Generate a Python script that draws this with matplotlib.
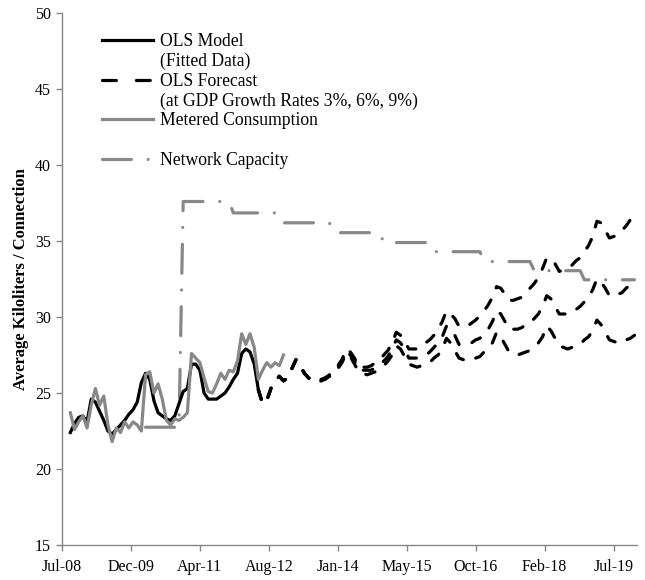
import matplotlib.pyplot as plt
import numpy as np
from matplotlib.lines import Line2D

plt.rcParams['font.family'] = ['Liberation Serif', 'DejaVu Serif']
plt.rcParams['lines.scale_dashes'] = False

# x is months counted from Jul-08
tick_pos = [0, 16.5, 33, 49.5, 66, 82.5, 99, 115.5, 132]
tick_labels = ['Jul-08', 'Dec-09', 'Apr-11', 'Aug-12', 'Jan-14',
               'May-15', 'Oct-16', 'Feb-18', 'Jul-19']

# OLS fitted (Sep-08 .. Jun-12)
fit_start = 2
fitted = [22.4, 23.0, 23.4, 23.5, 23.1, 24.6, 24.4, 23.8, 23.2, 22.5,
          22.3, 22.6, 22.9, 23.2, 23.6, 23.9, 24.4, 25.7, 26.3, 25.9,
          24.5, 23.7, 23.5, 23.3, 23.2, 23.5, 24.3, 25.1, 25.3, 26.9,
          26.9, 26.5, 25.0, 24.6, 24.6, 24.6, 24.8, 25.0, 25.4, 25.9,
          26.3, 27.6, 27.9, 27.7, 26.9, 25.2]

# metered consumption (Sep-08 .. Dec-12)
met_start = 2
metered = [23.7, 22.6, 23.1, 23.5, 22.7, 24.2, 25.3, 24.2, 24.8, 22.9,
           21.8, 22.7, 22.4, 23.1, 22.7, 23.1, 22.9, 22.5, 26.2, 26.4,
           25.0, 25.6, 24.6, 23.2, 22.9, 23.3, 23.2, 23.4, 23.7, 27.6,
           27.3, 27.0, 26.0, 25.1, 25.0, 25.6, 26.3, 25.9, 26.5, 26.4,
           27.1, 28.9, 28.2, 28.9, 28.0, 25.9, 26.5, 27.0, 26.7, 27.0,
           26.8, 27.5]

# OLS forecast, common part then 3%, 6%, 9% GDP growth
fc_start = 47
fc_common = [25.2, 24.3, 24.5, 25.3, 25.8, 26.1, 25.8, 26.0, 26.6, 27.2,
             26.8, 26.3, 26.0]
fc_low = [25.8, 25.7, 25.8, 25.9, 26.1, 26.3, 26.6, 27.0, 27.6, 27.4, 26.9, 26.4,
          26.3, 26.2, 26.3, 26.4, 26.6, 26.8, 27.1, 27.5, 28.1, 27.9, 27.4, 26.9,
          26.8, 26.7, 26.8, 26.9, 27.0, 27.3, 27.5, 27.9, 28.6, 28.3, 27.8, 27.3,
          27.2, 27.1, 27.2, 27.3, 27.4, 27.7, 27.9, 28.3, 29.0, 28.7, 28.2, 27.7,
          27.6, 27.5, 27.6, 27.7, 27.8, 28.1, 28.3, 28.7, 29.4, 29.1, 28.6, 28.1,
          28.0, 27.9, 28.0, 28.1, 28.2, 28.5, 28.7, 29.1, 29.8, 29.5, 29.0, 28.5,
          28.4, 28.3, 28.3, 28.5, 28.6, 28.8]
fc_mid = [25.8, 25.8, 25.8, 26.0, 26.1, 26.4, 26.7, 27.1, 27.8, 27.5, 27.1, 26.5,
          26.5, 26.5, 26.5, 26.7, 26.9, 27.1, 27.4, 27.9, 28.5, 28.3, 27.9, 27.3,
          27.3, 27.3, 27.4, 27.5, 27.7, 28.0, 28.3, 28.7, 29.4, 29.2, 28.8, 28.2,
          28.2, 28.2, 28.3, 28.5, 28.6, 28.9, 29.2, 29.7, 30.4, 30.2, 29.7, 29.2,
          29.2, 29.2, 29.3, 29.5, 29.6, 29.9, 30.2, 30.7, 31.4, 31.2, 30.7, 30.2,
          30.2, 30.2, 30.3, 30.5, 30.7, 31.0, 31.3, 31.8, 32.5, 32.3, 31.9, 31.4,
          31.4, 31.5, 31.6, 31.9, 32.1, 32.5]
fc_high = [25.8, 25.8, 25.9, 26.0, 26.2, 26.5, 26.8, 27.2, 27.9, 27.7, 27.3, 26.7,
           26.7, 26.7, 26.8, 27.0, 27.2, 27.5, 27.8, 28.3, 29.0, 28.8, 28.4, 27.9,
           27.9, 27.9, 28.1, 28.3, 28.5, 28.8, 29.2, 29.7, 30.4, 30.2, 29.9, 29.4,
           29.4, 29.4, 29.6, 29.8, 30.1, 30.4, 30.8, 31.3, 32.0, 31.9, 31.5, 31.1,
           31.1, 31.2, 31.3, 31.6, 31.9, 32.2, 32.6, 33.2, 33.9, 33.8, 33.5, 33.0,
           33.1, 33.2, 33.4, 33.7, 33.9, 34.3, 34.7, 35.3, 36.3, 36.2, 35.7, 35.2,
           35.3, 35.4, 35.7, 36.0, 36.4, 36.8]

# network capacity: stepped levels and how many months each lasts
cap_start = 20
cap_levels = [22.75, 37.6, 36.85, 36.2, 35.55, 34.9, 34.3, 33.65, 33.05, 32.45]
cap_months = [9, 12, 12, 12, 12, 12, 12, 12, 12, 13]

gray = '#888888'
axis_gray = '#868686'
lw = 2.3
fc_dash = (7.0, 9.5)
cap_dash = (20.8, 12.1, 0.01, 12.1)

fig = plt.figure(figsize=(6.45, 5.8), dpi=100)
ax = fig.add_axes([0.0961, 0.0603, 0.8915, 0.9172])

capacity = np.repeat(cap_levels, cap_months)
ax.plot(cap_start + np.arange(len(capacity)), capacity, color=gray, lw=lw,
        dashes=cap_dash, dash_capstyle='round')

ax.plot(fit_start + np.arange(len(fitted)), fitted, color='black', lw=lw,
        solid_joinstyle='round')
ax.plot(met_start + np.arange(len(metered)), metered, color=gray, lw=lw,
        solid_joinstyle='round')

for tail in (fc_low, fc_mid, fc_high):
    ys = fc_common + tail
    ax.plot(fc_start + np.arange(len(ys)), ys, color='black', lw=lw,
            dashes=fc_dash, dash_capstyle='round')

ax.set_xlim(0, 137.6)
ax.set_ylim(15, 50)
ax.set_xticks(tick_pos)
ax.set_xticklabels(tick_labels)
ax.set_yticks(range(15, 51, 5))

for side in ('top', 'right'):
    ax.spines[side].set_visible(False)
for side in ('left', 'bottom'):
    ax.spines[side].set_color(axis_gray)
    ax.spines[side].set_linewidth(1)
ax.tick_params(direction='out', length=4, width=1, color=axis_gray,
               labelsize=11.5, pad=4)
ax.tick_params(axis='x', pad=6)

ax.set_ylabel('Average Kiloliters / Connection', fontsize=12, fontweight='bold')
ax.yaxis.set_label_coords(-0.057, 0.5)

blank = Line2D([], [], color='none')
handles = [Line2D([], [], color='black', lw=lw),
           blank,
           Line2D([], [], color='black', lw=lw, dashes=(10, 14.4), dash_capstyle='round'),
           blank,
           Line2D([], [], color=gray, lw=lw),
           blank,
           Line2D([], [], color=gray, lw=lw, dashes=cap_dash, dash_capstyle='round')]
labels = ['OLS Model', '(Fitted Data)', 'OLS Forecast',
          '(at GDP Growth Rates 3%, 6%, 9%)', 'Metered Consumption', '',
          'Network Capacity']
ax.legend(handles, labels, loc='upper left', bbox_to_anchor=(0.07, 0.962),
          frameon=False, fontsize=12.7, handlelength=2.85, handletextpad=0.45,
          labelspacing=0.15, borderpad=0, borderaxespad=0)

fig.savefig('out.png', dpi=100)
